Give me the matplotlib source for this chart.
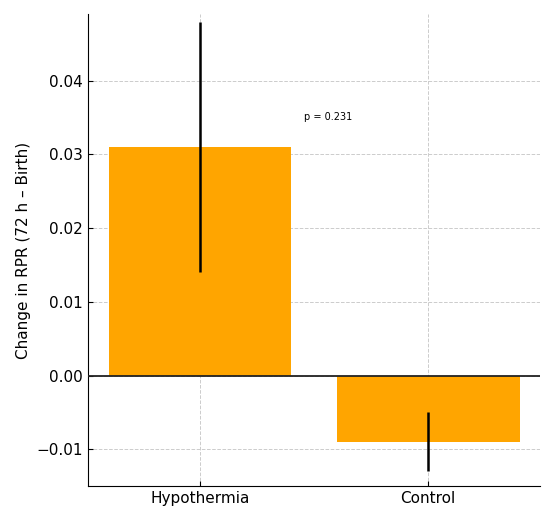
import matplotlib.pyplot as plt
import numpy as np

groups = ["Hypothermia", "Control"]
means = [0.031, -0.009]
errs = [0.017, 0.004]
p_value = 0.231

fig, ax = plt.subplots(figsize=(5.5, 5.25), dpi=100)
x = np.arange(len(groups))
ax.bar(x, means, width=0.8, color="#FFA500", zorder=2)
ax.errorbar(x, means, yerr=errs, fmt="none", ecolor="black", elinewidth=1.8, capsize=0, zorder=3)
ax.axhline(0, color="#222222", linewidth=1.3, zorder=3)

ax.text(0.56, 0.035, f"p = {p_value}", ha="center", va="center", fontsize=7)

ax.set_xticks(x)
ax.set_xticklabels(groups, fontsize=11)
ax.set_ylabel("Change in RPR (72 h – Birth)", fontsize=11)
ax.set_ylim(-0.015, 0.049)
ax.set_xlim(-0.49, 1.49)
ax.set_yticks([-0.01, 0.0, 0.01, 0.02, 0.03, 0.04])
ax.tick_params(direction="in", labelsize=11)
ax.grid(True, linestyle="--", color="#cccccc", linewidth=0.7, zorder=0)
ax.set_axisbelow(True)
ax.spines["top"].set_visible(False)
ax.spines["right"].set_visible(False)

fig.subplots_adjust(left=0.16, right=0.982, top=0.973, bottom=0.074)
fig.savefig("out.png")
